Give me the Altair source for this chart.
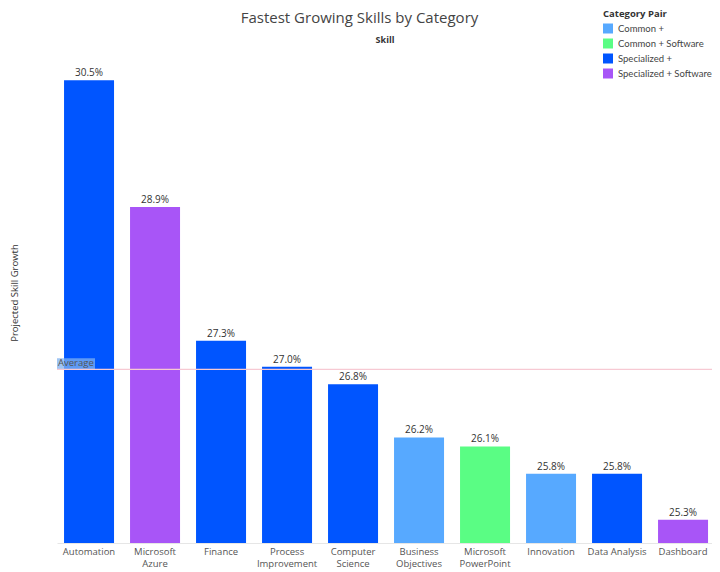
import altair as alt
import pandas as pd

skills = ["Automation", "Microsoft Azure", "Finance", "Process Improvement",
          "Computer Science", "Business Objectives", "Microsoft PowerPoint",
          "Innovation", "Data Analysis", "Dashboard"]
growth = [30.5, 28.9, 27.3, 27.0, 26.8, 26.2, 26.1, 25.8, 25.8, 25.3]
pairs = ["Specialized +", "Specialized + Software", "Specialized +", "Specialized +",
         "Specialized +", "Common +", "Common + Software", "Common +",
         "Specialized +", "Specialized + Software"]

pair_domain = ["Common +", "Common + Software", "Specialized +", "Specialized + Software"]
pair_colors = ["#57a9ff", "#5afd84", "#0055ff", "#a855f7"]

df = pd.DataFrame({"Skill": skills, "Growth": growth, "Pair": pairs})

FONT = "Open Sans"
BASE = 25.05
TOP = 31.0

x_enc = alt.X("Skill:N", sort=skills,
              scale=alt.Scale(paddingInner=0.2424, paddingOuter=0.0833, align=0.64),
              axis=alt.Axis(title=None, orient="bottom", ticks=False, domain=True,
                            domainColor="#e6e6e6", labelAngle=0, labelColor="#555555",
                            labelFontSize=9.5, labelFont=FONT, labelPadding=3,
                            labelLineHeight=12.5, labelBaseline="top",
                            labelExpr="length(datum.value) > 13 ? split(datum.value, ' ') : datum.value"))

y_scale = alt.Scale(type="log", domain=[BASE, TOP], nice=False, zero=False)

bars = alt.Chart(df).transform_calculate(base=str(BASE)).mark_bar(stroke=None, clip=True).encode(
    x=x_enc,
    y=alt.Y("Growth:Q", scale=y_scale,
            axis=alt.Axis(title="Projected Skill Growth", labels=False, ticks=False,
                          domain=False, grid=False, titleFontSize=9.5, titleFont=FONT,
                          titleFontWeight="normal", titleColor="#333333", titlePadding=38)),
    y2="base:Q",
    color=alt.Color("Pair:N", scale=alt.Scale(domain=pair_domain, range=pair_colors),
                    legend=alt.Legend(title="Category Pair", orient="none", legendX=546,
                                      legendY=-33, symbolType="square", symbolSize=100,
                                      titleFontSize=9.5, titleFont=FONT, titleColor="#333333",
                                      labelFontSize=9.5, labelFont="Lato", labelColor="#444444",
                                      labelOffset=5, rowPadding=5, titlePadding=5,
                                      symbolStrokeWidth=0)),
)

labels = alt.Chart(df).transform_calculate(
    txt="format(datum.Growth, '.1f') + '%'"
).mark_text(baseline="bottom", dy=-2, fontSize=10, font=FONT, color="#333333").encode(
    x=alt.X("Skill:N", sort=skills,
            axis=alt.Axis(title="Skill", orient="top", labels=False, ticks=False,
                          domain=False, titleFontSize=9, titleFont=FONT,
                          titleFontWeight="bold", titleColor="#333333", titlePadding=-2)),
    y=alt.Y("Growth:Q", scale=y_scale),
    text="txt:N",
)

avg_base = alt.Chart(df).transform_aggregate(avg="mean(Growth)")

avg_rule = avg_base.mark_rule(color="#f7c9d3", strokeWidth=1.2).encode(
    y=alt.Y("avg:Q", scale=y_scale)
)

avg_box = avg_base.transform_calculate(top="datum.avg * 1.0047").mark_rect(
    color="#7fb2f0", opacity=0.75
).encode(
    x=alt.value(0), x2=alt.value(38),
    y=alt.Y("avg:Q", scale=y_scale), y2="top:Q",
)

avg_text = avg_base.mark_text(text="Average", align="left", baseline="bottom", dx=1, dy=-1,
                              fontSize=9.5, font=FONT, color="#555555").encode(
    x=alt.value(0),
    y=alt.Y("avg:Q", scale=y_scale),
)

chart = alt.layer(bars, avg_box, avg_rule, avg_text, labels).resolve_axis(
    x="independent"
).properties(
    width=655, height=501,
    title=alt.TitleParams("Fastest Growing Skills by Category", anchor="middle", dx=-25,
                          offset=-17, fontSize=15, font=FONT, fontWeight="normal",
                          color="#444444"),
    autosize=alt.AutoSizeParams(type="none"),
    padding={"left": 49, "top": 34, "right": 0, "bottom": 29},
).configure_view(stroke=None)

chart.save("out.html", embed_options={"renderer": "svg", "actions": False})
